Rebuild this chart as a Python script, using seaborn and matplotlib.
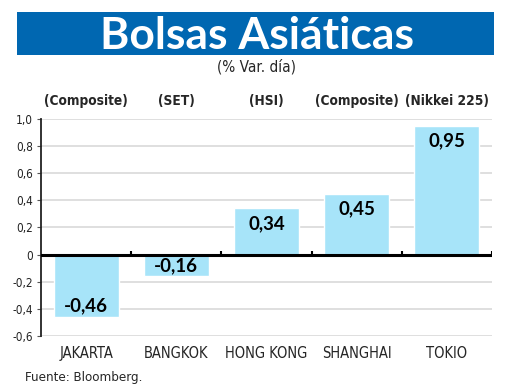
import numpy as np
import matplotlib
matplotlib.use('Agg')
import matplotlib.pyplot as plt
import seaborn as sns
from matplotlib.patches import Rectangle

cities = ['JAKARTA', 'BANGKOK', 'HONG KONG', 'SHANGHAI', 'TOKIO']
indexes = ['(Composite)', '(SET)', '(HSI)', '(Composite)', '(Nikkei 225)']
changes = [-0.46, -0.16, 0.34, 0.45, 0.95]
yticks = [-0.6, -0.4, -0.2, 0, 0.2, 0.4, 0.6, 0.8, 1.0]

title = 'Bolsas Asiáticas'
subtitle = '(% Var. día)'
source = 'Fuente: Bloomberg.'

banner_blue = '#0067B1'
bar_blue = '#A7E4F9'

sns.set_style('white')
plt.rcParams['font.family'] = ['DejaVu Sans']
plt.rcParams['font.stretch'] = 'condensed'

fig = plt.figure(figsize=(5.2, 3.9), dpi=100)
ax = fig.add_axes([0.079, 0.1385, 0.867, 0.5564])

sns.barplot(x=cities, y=changes, color=bar_blue, width=0.72, saturation=1,
            ax=ax, zorder=3)

ax.set_xlim(-0.5, len(cities) - 0.5)
ax.set_ylim(-0.6, 1.0)
ax.set_yticks(yticks)
ax.set_yticklabels(['0' if v == 0 else f'{v:.1f}'.replace('.', ',') for v in yticks],
                   fontsize=8.5, color='#222222')
ax.tick_params(axis='y', length=3, width=0.8, color='#555555', pad=3, left=True)
ax.tick_params(axis='x', length=0, pad=7, labelsize=10.5)

ax.yaxis.grid(True, color='#dcdcdc', lw=1.3, zorder=0)
ax.xaxis.grid(False)
for side in ['top', 'right', 'bottom']:
    ax.spines[side].set_visible(False)
ax.spines['left'].set_color('#222222')
ax.spines['left'].set_linewidth(1.3)

# zero line with small ticks at category boundaries
ax.axhline(0, color='black', lw=2.2, zorder=4)
bounds = np.arange(len(cities)) + 0.5
ax.vlines(bounds, 0, 0.03, color='black', lw=1.5, zorder=4)

# value labels inside bars
for i, v in enumerate(changes):
    off = -15 if v > 0 else 11
    ax.annotate(f'{v:.2f}'.replace('.', ','), xy=(i, v), xytext=(0, off),
                textcoords='offset pixels', ha='center', va='center',
                fontsize=13.5, fontweight='bold', family=['Lato', 'DejaVu Sans'],
                fontstretch='normal', color='black', zorder=5)

# index names above the plot
for i, name in enumerate(indexes):
    ax.annotate(name, xy=(i, 1), xycoords=('data', 'axes fraction'),
                xytext=(0, 18), textcoords='offset pixels', ha='center',
                va='center', fontsize=9.8, fontweight='bold')

# title banner
fig.patches.append(Rectangle((0.033, 0.859), 0.917, 0.11, transform=fig.transFigure,
                             facecolor=banner_blue, edgecolor='none'))
fig.text(0.494, 0.908, title, ha='center', va='center', color='white',
         fontsize=32, fontweight='bold', family=['Lato', 'DejaVu Sans'],
         fontstretch='normal')
fig.text(0.494, 0.83, subtitle, ha='center', va='center', fontsize=11)
fig.text(0.048, 0.033, source, ha='left', va='center', fontsize=9.5)

fig.savefig('out.png', dpi=100)
